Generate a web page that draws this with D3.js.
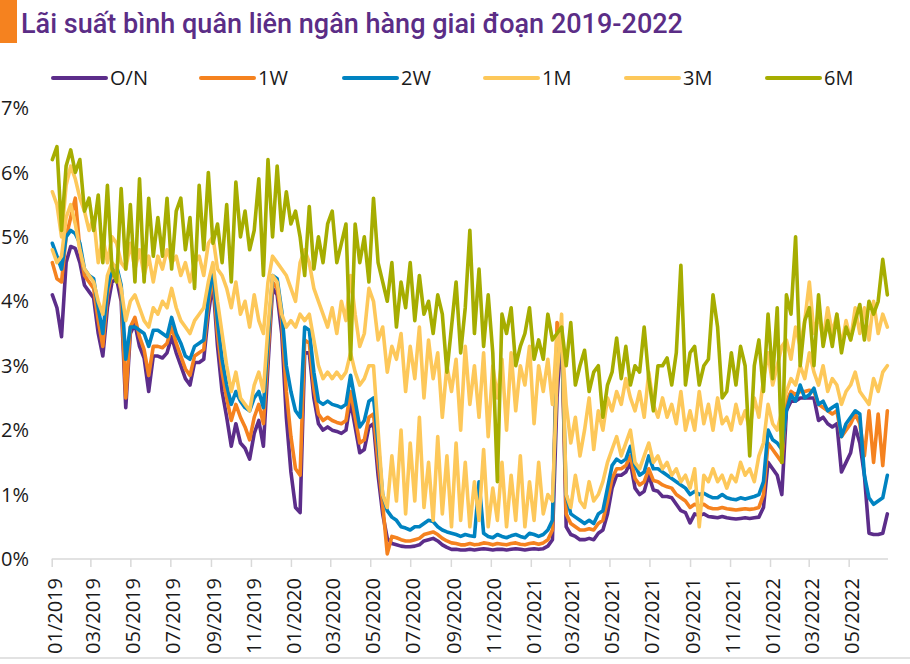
<!DOCTYPE html>
<html>
<head>
<meta charset="utf-8">
<script src="https://cdn.jsdelivr.net/npm/d3@7"></script>
<style>
  html, body { margin: 0; padding: 0; background: #fff; }
  svg { display: block; }
</style>
</head>
<body>
<svg id="chart" width="910" height="664"></svg>
<script>
// ---------- DATA (weekly observations, starting 2019-01-02) ----------
const titleText = "Lãi suất bình quân liên ngân hàng giai đoạn 2019-2022";
const seriesNames = ["O/N", "1W", "2W", "1M", "3M", "6M"];
const seriesColors = ["#5c2d8a", "#f5821f", "#0083c1", "#fdc85a", "#fdc85a", "#a6ad00"];
const startDate = "2019-01-02";
const yTickValues = [0, 1, 2, 3, 4, 5, 6, 7];

const rateON = [4.1,3.9,3.45,4.6,4.85,4.82,4.6,4.25,4.15,4.05,
3.5,3.15,3.9,4.3,4.35,4.0,2.35,3.5,3.65,3.3,
3.12,2.6,3.15,3.15,3.12,3.2,3.45,3.2,3.0,2.8,
2.7,3.05,3.05,3.1,3.8,4.3,3.3,2.6,2.2,1.75,
2.1,1.8,1.72,1.55,1.95,2.15,1.75,3.0,4.2,4.1,
3.5,2.2,1.35,0.8,0.72,3.2,3.2,2.5,2.1,2.0,
2.05,2.0,1.98,1.95,2.0,2.45,2.05,1.65,1.7,2.05,
2.1,1.3,0.7,0.32,0.24,0.22,0.2,0.19,0.19,0.2,
0.22,0.28,0.3,0.32,0.28,0.22,0.18,0.15,0.15,0.14,
0.14,0.15,0.14,0.15,0.16,0.15,0.14,0.15,0.15,0.14,
0.15,0.16,0.15,0.14,0.15,0.16,0.15,0.16,0.2,0.3,
2.5,3.6,0.5,0.38,0.35,0.3,0.3,0.32,0.3,0.4,
0.45,0.7,1.1,1.3,1.3,1.35,1.5,1.1,1.0,1.05,
1.3,1.07,1.05,0.97,0.97,0.95,0.85,0.75,0.72,0.56,
0.7,0.68,0.7,0.66,0.65,0.64,0.66,0.64,0.63,0.62,
0.63,0.64,0.63,0.64,0.65,0.8,1.5,1.4,1.3,1.0,
2.3,2.45,2.45,2.5,2.5,2.5,2.5,2.15,2.2,2.1,
2.05,2.1,1.35,1.5,1.65,2.05,1.8,1.3,0.4,0.38,
0.38,0.4,0.7];

const rate1W = [4.6,4.35,4.3,5.0,5.3,5.6,4.8,4.4,4.3,4.2,
3.7,3.3,4.1,4.45,4.5,4.15,2.5,3.6,3.75,3.45,
3.25,2.85,3.3,3.3,3.28,3.35,3.6,3.35,3.15,2.95,
2.85,3.15,3.2,3.25,3.95,4.4,3.5,2.9,2.5,2.15,
2.4,2.2,2.05,1.85,2.2,2.4,2.1,3.2,4.3,4.2,
3.7,2.6,1.9,1.4,1.3,3.4,3.35,2.65,2.25,2.15,
2.2,2.15,2.12,2.1,2.15,2.6,2.2,1.8,1.85,2.2,
2.25,1.5,0.85,0.08,0.35,0.33,0.3,0.28,0.28,0.3,
0.32,0.38,0.4,0.42,0.38,0.32,0.28,0.25,0.24,0.22,
0.22,0.24,0.22,0.23,0.25,0.24,0.22,0.24,0.23,0.22,
0.24,0.25,0.23,0.22,0.24,0.25,0.23,0.25,0.3,0.45,
3.67,3.5,0.7,0.55,0.5,0.45,0.45,0.47,0.45,0.55,
0.6,0.9,1.25,1.4,1.4,1.45,1.6,1.25,1.15,1.2,
1.4,1.22,1.2,1.15,1.12,1.1,1.0,0.95,0.9,0.8,
0.85,0.82,0.85,0.8,0.78,0.78,0.8,0.78,0.77,0.76,
0.77,0.78,0.77,0.78,0.8,1.0,1.8,1.7,1.6,1.5,
2.45,2.6,2.55,2.6,2.6,2.62,2.6,2.4,2.35,2.3,
2.25,2.3,1.9,2.0,2.1,2.25,2.1,1.6,2.3,1.5,
2.25,1.45,2.3];

const rate2W = [4.9,4.7,4.5,5.0,5.1,5.05,4.9,4.5,4.4,4.35,
3.9,3.5,4.2,4.5,4.55,4.25,3.1,3.6,3.6,3.55,
3.5,3.3,3.55,3.55,3.5,3.45,3.75,3.5,3.35,3.15,
3.1,3.3,3.35,3.4,4.05,4.5,3.7,3.1,2.7,2.4,
2.6,2.45,2.35,2.3,2.5,2.6,2.35,3.4,4.4,4.35,
3.85,3.0,2.6,2.3,2.2,3.6,3.55,2.9,2.45,2.4,
2.45,2.4,2.38,2.35,2.4,2.85,2.45,2.05,2.15,2.45,
2.5,1.8,1.0,0.75,0.65,0.6,0.5,0.48,0.45,0.5,
0.5,0.55,0.6,0.58,0.5,0.45,0.42,0.4,0.38,0.35,
0.38,0.36,0.35,1.2,0.4,0.35,0.33,0.38,0.35,0.33,
0.36,0.38,0.35,0.33,0.4,0.38,0.35,0.38,0.45,0.6,
3.2,3.55,1.0,0.7,0.65,0.6,0.55,0.6,0.55,0.7,
0.75,1.1,1.45,1.55,1.5,1.55,1.75,1.45,1.3,1.35,
1.6,1.4,1.4,1.35,1.3,1.25,1.2,1.15,1.1,1.0,
1.05,1.0,1.02,0.98,0.95,0.95,1.0,0.95,0.93,0.92,
0.95,0.93,0.95,0.97,1.0,1.2,2.0,1.85,1.8,1.7,
2.3,2.55,2.45,2.7,2.5,2.55,2.65,2.4,2.45,2.3,
2.35,2.4,1.9,2.1,2.2,2.3,2.25,1.3,0.95,0.85,
0.9,0.95,1.3];

const rate1M = [4.8,4.6,4.7,5.3,5.5,5.2,4.8,4.5,4.4,4.3,
4.0,3.8,4.4,4.6,4.5,4.2,3.7,4.0,4.1,3.9,
3.7,3.6,3.9,3.8,4.0,3.9,4.2,3.9,3.7,3.6,
3.5,3.7,3.8,3.9,4.3,4.6,4.0,3.5,3.0,2.6,
2.9,2.5,2.4,2.3,2.7,2.9,2.6,3.6,4.4,4.3,
3.8,3.6,3.7,3.6,3.8,3.7,3.8,3.4,3.0,2.8,
2.9,2.8,2.9,2.8,2.9,3.2,2.9,2.7,2.8,3.0,
3.0,2.0,1.0,0.8,1.6,0.9,2.0,0.7,1.8,0.9,
2.2,0.8,1.5,0.6,1.9,0.7,1.6,0.5,1.8,0.6,
1.5,0.5,1.2,0.6,1.7,0.5,1.1,0.6,1.5,0.5,
1.3,0.6,1.6,0.5,1.2,0.6,1.5,0.7,1.0,0.9,
2.8,3.8,1.0,0.8,1.3,0.9,0.8,1.2,0.9,1.0,
1.2,1.5,1.7,1.9,1.6,1.8,2.0,1.5,1.4,1.6,
1.8,1.5,1.6,1.4,1.5,1.3,1.4,1.2,1.3,1.1,
1.4,0.5,1.3,1.2,1.4,1.2,1.3,1.1,1.3,1.2,
1.5,1.3,1.4,1.2,1.6,1.8,2.4,2.1,2.0,2.3,
2.6,2.8,2.7,3.0,2.8,3.2,2.9,2.7,3.0,2.6,
2.8,2.7,2.4,2.6,2.7,2.9,2.6,2.5,2.4,2.8,
2.6,2.9,3.0];

const rate3M = [5.7,5.5,5.0,5.8,6.1,5.9,5.6,5.4,5.1,5.3,
4.6,5.0,4.6,5.0,4.9,4.6,4.5,4.9,4.5,4.8,
4.4,4.7,4.3,4.7,4.5,4.8,4.6,4.7,4.4,4.6,
4.3,4.6,4.7,4.4,4.9,5.0,4.5,4.4,4.2,3.9,
4.3,3.8,4.0,3.6,4.1,3.7,3.5,4.3,4.7,4.6,
4.5,4.4,4.2,4.0,4.6,4.8,4.6,4.2,4.0,3.8,
3.6,3.9,3.5,4.0,3.7,4.4,3.8,3.3,3.5,4.2,
4.0,3.4,3.6,2.9,3.3,3.1,3.5,2.6,3.3,2.8,
3.6,2.5,3.4,2.8,3.2,2.2,3.0,2.6,3.1,2.0,
3.3,2.4,3.0,2.2,3.2,1.9,3.0,2.5,3.1,2.0,
3.2,2.3,3.0,2.7,3.3,2.1,3.0,2.6,3.1,2.4,
3.5,3.5,2.4,1.8,2.2,1.6,2.0,2.5,1.7,2.3,
2.0,2.5,2.3,2.6,2.4,2.8,2.5,2.3,2.6,2.2,
2.9,2.4,2.2,2.5,2.2,2.4,2.1,2.6,2.0,2.3,
2.0,2.6,2.1,2.4,2.0,2.5,2.1,2.2,2.0,2.4,
2.1,2.3,2.0,2.5,2.2,2.8,3.2,2.7,3.0,3.3,
3.4,3.1,3.6,3.3,3.7,4.3,3.5,3.8,3.4,3.9,
3.5,3.8,3.3,3.7,3.4,3.9,3.5,3.9,3.4,4.0,
3.5,3.8,3.6];

const rate6M = [6.2,6.4,5.1,6.1,6.35,6.0,6.2,5.4,5.6,5.1,
5.65,4.6,5.8,4.5,4.3,5.75,4.5,5.5,4.3,5.9,
4.3,5.6,4.7,5.3,4.7,5.6,4.5,5.4,5.6,4.8,
5.3,4.2,5.8,4.8,6.0,4.9,5.2,4.6,5.5,4.3,
5.85,5.0,5.4,4.8,5.1,5.9,4.4,6.2,5.0,6.1,
5.1,5.7,5.2,5.4,5.0,4.4,5.47,4.5,5.0,4.6,
5.2,5.4,4.6,4.9,5.2,3.1,5.2,4.6,5.0,4.3,
5.6,4.6,4.3,4.0,4.6,3.6,4.3,3.9,4.6,3.7,
4.4,3.8,4.0,3.5,4.1,3.8,2.9,3.6,4.3,3.2,
3.9,5.1,3.5,4.5,3.3,4.1,3.2,1.2,3.8,3.5,
3.9,3.0,3.3,3.5,3.9,3.1,3.4,3.1,3.8,3.4,
3.5,3.6,3.0,3.67,2.7,3.0,3.24,2.6,2.9,3.0,
2.2,2.7,2.9,3.43,2.8,3.3,2.7,3.0,2.9,3.6,
2.8,2.3,3.0,3.0,3.12,2.7,3.2,4.56,2.7,3.2,
3.3,2.7,3.0,3.1,4.1,3.6,2.5,2.6,3.2,2.7,
3.3,3.0,1.6,3.0,3.4,2.6,3.8,2.8,3.9,1.5,
4.1,3.8,5.0,3.0,3.7,3.9,3.0,4.1,3.3,3.7,
3.3,3.8,3.2,3.6,3.4,3.7,3.95,3.4,4.0,3.8,
4.0,4.65,4.1];

const allRates = [rateON, rate1W, rate2W, rate1M, rate3M, rate6M];

// ---------- CHART ----------
const svg = d3.select("#chart");
const parse = d3.timeParse("%Y-%m-%d");
const t0 = parse(startDate);
const dates = rateON.map((_, i) => d3.timeDay.offset(t0, i * 7));

const x = d3.scaleTime()
  .domain([parse("2019-01-01"), parse("2022-06-30")])
  .range([51.7, 888]);
const y = d3.scaleLinear().domain([0, 7]).range([559, 108]);

// title block
svg.append("rect").attr("x", 0).attr("y", 0).attr("width", 17).attr("height", 43).attr("fill", "#f5821f");
svg.append("text")
  .attr("x", 21).attr("y", 33)
  .attr("font-family", "Roboto, 'Open Sans', sans-serif")
  .attr("font-size", 27).attr("font-weight", 500)
  .attr("fill", "#5b2d86")
  .attr("textLength", 662).attr("lengthAdjust", "spacingAndGlyphs")
  .text(titleText);

// legend
const legendX = [53, 201, 344, 485, 626, 767];
const leg = svg.append("g");
seriesNames.forEach((name, i) => {
  const g = leg.append("g").attr("transform", `translate(${legendX[i]},78)`);
  g.append("line").attr("x1", 0).attr("x2", 53).attr("y1", 0).attr("y2", 0)
    .attr("stroke", seriesColors[i]).attr("stroke-width", 4).attr("stroke-linecap", "round");
  g.append("text").attr("x", 57).attr("y", 0).attr("dy", "0.36em")
    .attr("font-family", "'Open Sans', sans-serif").attr("font-size", 20)
    .attr("fill", "#1a1a1a").text(name);
});

// y labels
svg.append("g").selectAll("text").data(yTickValues).join("text")
  .attr("x", 29).attr("y", d => y(d)).attr("dy", "0.36em")
  .attr("text-anchor", "end")
  .attr("font-family", "'Open Sans', sans-serif").attr("font-size", 20)
  .attr("fill", "#1a1a1a")
  .text(d => d + "%");

// x axis
const xTicks = d3.timeMonth.every(2).range(parse("2019-01-01"), parse("2022-06-01"));
const xAxis = d3.axisBottom(x).tickValues(xTicks).tickSize(8).tickFormat("");
const gx = svg.append("g").attr("transform", "translate(0,559)").call(xAxis);
gx.select(".domain").attr("stroke", "#d9d9d9").attr("stroke-width", 1.5).attr("d", "M51.7,0H888");
gx.selectAll(".tick line").attr("stroke", "#d9d9d9").attr("stroke-width", 1.5);
const fmt = d3.timeFormat("%m/%Y");
svg.append("g").selectAll("text").data(xTicks).join("text")
  .attr("transform", d => `translate(${x(d) + 10},578) rotate(-90)`)
  .attr("text-anchor", "end")
  .attr("font-family", "'Open Sans', sans-serif").attr("font-size", 20)
  .attr("fill", "#1a1a1a")
  .text(d => fmt(d));

// bottom border line
svg.append("line").attr("x1", 0).attr("x2", 910).attr("y1", 658).attr("y2", 658)
  .attr("stroke", "#d9d9d9").attr("stroke-width", 1.5);

// series lines
const line = d3.line().x((d, i) => x(dates[i])).y(d => y(d));
svg.append("g").selectAll("path").data(allRates).join("path")
  .attr("d", d => line(d))
  .attr("fill", "none")
  .attr("stroke", (d, i) => seriesColors[i])
  .attr("stroke-width", 3.6)
  .attr("stroke-linejoin", "round")
  .attr("stroke-linecap", "round");
</script>
</body>
</html>
